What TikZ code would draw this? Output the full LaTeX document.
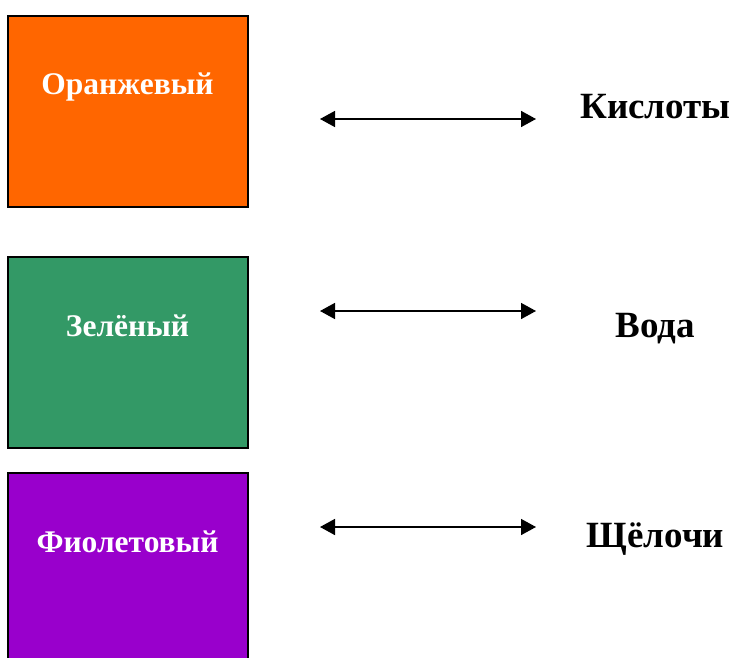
\documentclass[tikz,border=0pt]{standalone}
\usepackage{fontspec}
\setmainfont{Liberation Serif}
\usetikzlibrary{arrows.meta}
\definecolor{Or}{RGB}{255,102,0}
\definecolor{Gr}{RGB}{51,153,102}
\definecolor{Vi}{RGB}{153,0,204}
\def\BoxW{240}
\def\BoxH{191}
\tikzset{
  colbox/.style={draw=black,line width=1.8pt,rectangle,inner sep=0pt,minimum width=\BoxW pt,minimum height=\BoxH pt},
  boxtext/.style={text=white,font=\fontsize{31.5}{37}\selectfont\bfseries,inner sep=0pt,anchor=base},
  sidetext/.style={text=black,font=\fontsize{37}{43}\selectfont\bfseries,inner sep=0pt,anchor=base},
  twoway/.style={line width=1.6pt,{Triangle[length=15pt,width=16pt]}-{Triangle[length=15pt,width=16pt]}}
}
\begin{document}
\begin{tikzpicture}[x=1pt,y=-1pt]
    \path[use as bounding box] (0,0) rectangle (736,658);
    \foreach \Top/\C/\N/\T/\A/\B/\L in {15/Or/or/Оранжевый/119/119/Кислоты,256/Gr/gr/Зелёный/311/337/Вода,472/Vi/vi/Фиолетовый/527/547/Щёлочи} {
        \node[colbox,fill=\C,anchor=north] (box\N) at (128,\Top) {};
        \node[boxtext] (txt\N) at (127.5,\Top+80) {\T};
        \node[sidetext] (lab\N) at (655.5,\B) {\L};
        \coordinate (al\N) at (320,\A);
        \coordinate (ar\N) at (536,\A);
        \draw[twoway] (al\N)--(ar\N);
    }
\end{tikzpicture}
\end{document}
